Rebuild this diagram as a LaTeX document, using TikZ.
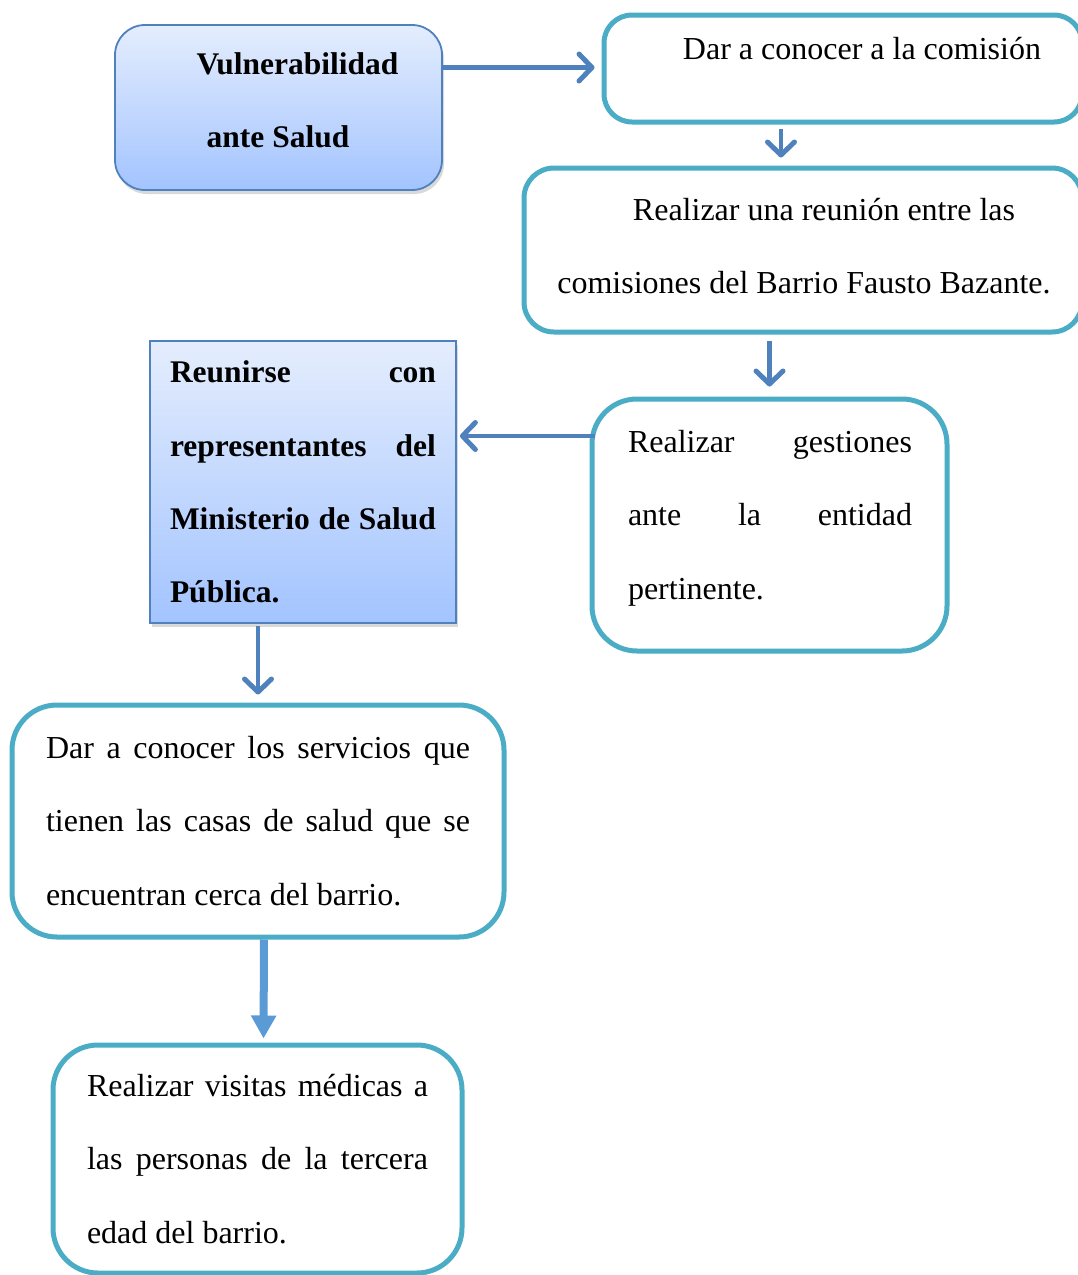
\documentclass[tikz,border=0pt]{standalone}
\usepackage{fontspec}
\setmainfont{Liberation Serif}
\usetikzlibrary{arrows.meta,shadows,positioning}

\definecolor{bordeazul}{RGB}{79,129,189}
\definecolor{turquesa}{RGB}{75,172,198}
\definecolor{azulclaro}{RGB}{228,237,253}
\definecolor{azulmedio}{RGB}{163,196,255}
\definecolor{flechaazul}{RGB}{79,129,189}
\definecolor{flechaceleste}{RGB}{91,155,213}

\newcommand\singuiones{\hyphenpenalty=10000\relax\tolerance=9999\relax}

\tikzset{
  texto/.style={font=\fontsize{32}{73.3}\selectfont, execute at begin node=\singuiones},
  negrita/.style={font=\fontsize{31.5}{73.3}\selectfont\bfseries, execute at begin node=\singuiones},
  cajaazul/.style={draw=bordeazul, line width=1.8pt, top color=azulclaro, bottom color=azulmedio,
    drop shadow={shadow xshift=2pt, shadow yshift=-4pt, opacity=0.25, fill=black!60}},
  cajaverde/.style={draw=turquesa, line width=5pt, fill=white},
  flecha/.style={draw=flechaazul, line width=4.5pt, -{Straight Barb[length=13pt,width=27pt,line width=5pt,round]}},
  flechagruesa/.style={draw=flechaceleste, line width=8pt, -{Triangle[length=23pt,width=24pt]}},
}

\begin{document}
\begin{tikzpicture}[x=1pt,y=-1pt]
      \useasboundingbox (0,0) rectangle (1077,1275);
      % cajas
      \node[cajaazul, rounded corners=30pt, minimum width=327pt, minimum height=165pt] (vulnerabilidad) at (278.5,107.5) {};
      \node[negrita, align=center] (vulnerabilidadtexto) at (278,100) {\hspace*{39pt}Vulnerabilidad\\ante Salud};
      \node[cajaverde, rounded corners=28pt, minimum width=478pt, minimum height=107pt] (comision) at (843,68.5) {};
      \node[texto, text height=22pt, text depth=7pt, inner sep=0pt] (comisiontexto) at (862,52) {Dar a conocer a la comisión};
      \node[cajaverde, rounded corners=30pt, minimum width=558pt, minimum height=164pt] (reunion) at (803,250) {};
      \node[texto, align=center] (reuniontexto) at (804,246)
            {\hspace*{40pt}Realizar una reunión entre las\\comisiones del Barrio Fausto Bazante.};
      \node[cajaverde, rounded corners=45pt, minimum width=355pt, minimum height=252pt] (gestiones) at (769.5,525) {};
      \node[texto, text width=284pt, align=justify] (gestionestexto) at (770,518) {Realizar gestiones ante la entidad pertinente.};
      \node[cajaazul, negrita, minimum width=306pt, minimum height=282pt, text width=266pt, align=justify]
            (reunirse) at (303,482) {Reunirse con representantes del Ministerio de Salud Pública.};
      \node[cajaverde, texto, rounded corners=45pt, minimum width=492pt, minimum height=232pt, text width=424pt, align=justify]
            (servicios) at (258,821) {Dar a conocer los servicios que tienen las casas de salud que se encuentran cerca del barrio.};
      \node[cajaverde, texto, rounded corners=45pt, minimum width=409pt, minimum height=228pt, text width=341pt, align=justify]
            (visitas) at (257.5,1159) {Realizar visitas médicas a las personas de la tercera edad del barrio.};
      % flechas
      \draw[flecha, shorten >=7pt] ([yshift=1pt]vulnerabilidad.east |- comision.west) -- ([yshift=1pt]comision.west);
      \draw[flecha, shorten <=4pt, shorten >=8pt] ([xshift=-62pt]comision.south) -- ([xshift=-22pt]reunion.north);
      \draw[flecha, shorten <=6pt, shorten >=10pt] (reunion.south -| gestiones.north) -- (gestiones.north);
      \draw[flecha, shorten <=-5pt, shorten >=3pt] ([yshift=89pt]gestiones.west) coordinate (g) -- (reunirse.east |- g);
      \draw[flecha, shorten <=2pt, shorten >=8pt] (reunirse.south -| servicios.north) -- (servicios.north);
      \draw[flechagruesa, shorten >=4pt] ([xshift=6pt]servicios.south) -- ([xshift=6pt]visitas.north);
\end{tikzpicture}
\end{document}
